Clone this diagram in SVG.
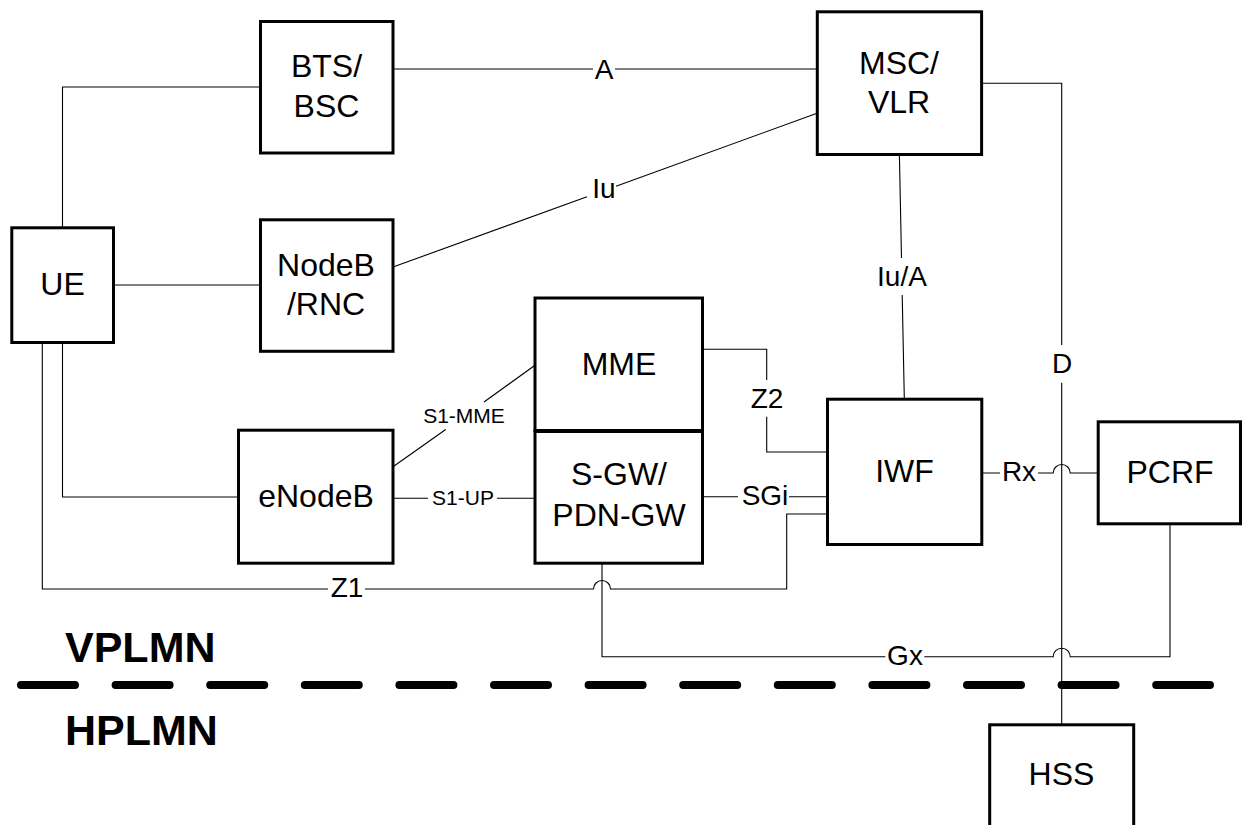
<svg xmlns="http://www.w3.org/2000/svg" width="1242" height="825" viewBox="0 0 1242 825">
<style>
.box{fill:#fff;stroke:#000;stroke-width:3}
.nt{font-family:"Liberation Sans",Arial,sans-serif;font-size:32px;fill:#000;text-anchor:middle}
.lb{font-family:"Liberation Sans",Arial,sans-serif;font-size:28px;fill:#000;text-anchor:middle}
.sl{font-family:"Liberation Sans",Arial,sans-serif;font-size:21px;fill:#000;text-anchor:middle}
.ln{fill:none;stroke:#000;stroke-width:1.1}
.dom{font-family:"Liberation Sans",Arial,sans-serif;font-size:43px;font-weight:bold;fill:#000}
</style>
<rect width="1242" height="825" fill="#fff"/>
<g id="connectors">
  <path class="ln" d="M62.5,227 V87 H260"/>
  <path class="ln" d="M113,285 H260"/>
  <path class="ln" d="M393,69 H593 M615,69 H817"/>
  <path class="ln" d="M393,267 L587,196.8 M616,186.2 L817,113.3"/>
  <path class="ln" d="M62.5,343 V497 H238"/>
  <path class="ln" d="M42.3,343 V589 H328 M365,589 H593.5 A8.5,8.5 0 0 1 610.5,589 H786.7 V514 H827"/>
  <path class="ln" d="M393,466.7 L445.7,429.5 M484,402 L535,365.3"/>
  <path class="ln" d="M393,498.3 H428 M497,498.3 H535"/>
  <path class="ln" d="M702,349.3 H766.7 V380 M766.7,416.7 V452 H827"/>
  <path class="ln" d="M702,496.7 H738 M789,496.7 H827"/>
  <path class="ln" d="M899.4,155 L901.5,258 M902.2,295 L904.3,398"/>
  <path class="ln" d="M982,83.3 H1061.7 V345 M1061.7,382.7 V724"/>
  <path class="ln" d="M982,473 H1000 M1038,473 H1053.2 A8.5,8.5 0 0 1 1070.2,473 H1097"/>
  <path class="ln" d="M602,564 V656.7 H885.3 M924.3,656.7 H1053.2 A8.5,8.5 0 0 1 1070.2,656.7 H1170 V524"/>
</g>
<g id="connector-labels">
  <text class="lb" x="604" y="79">A</text>
  <text class="lb" x="604" y="198">Iu</text>
  <text class="lb" x="902" y="286">Iu/A</text>
  <text class="lb" x="1062" y="373">D</text>
  <text class="lb" x="767" y="408">Z2</text>
  <text class="lb" x="765" y="505">SGi</text>
  <text class="lb" x="1019" y="481">Rx</text>
  <text class="lb" x="347" y="597">Z1</text>
  <text class="lb" x="905" y="665">Gx</text>
  <text class="sl" x="464" y="423">S1-MME</text>
  <text class="sl" x="463" y="505">S1-UP</text>
</g>
<g id="bts">
  <rect class="box" x="260.5" y="21.5" width="132.5" height="131.5"/>
  <text class="nt" x="326.5" y="77">BTS/</text>
  <text class="nt" x="326.5" y="117">BSC</text>
</g>
<g id="msc">
  <rect class="box" x="817.3" y="11.8" width="164.3" height="142.7"/>
  <text class="nt" x="899" y="74">MSC/</text>
  <text class="nt" x="899" y="113">VLR</text>
</g>
<g id="ue">
  <rect class="box" x="11.8" y="227.8" width="101.7" height="114.7"/>
  <text class="nt" x="62.5" y="295">UE</text>
</g>
<g id="nodeb">
  <rect class="box" x="260.5" y="219.8" width="132.5" height="131.5"/>
  <text class="nt" x="326" y="276">NodeB</text>
  <text class="nt" x="326" y="315">/RNC</text>
</g>
<g id="mme">
  <rect class="box" x="535" y="298" width="167.5" height="132.5"/>
  <text class="nt" x="619" y="375">MME</text>
</g>
<g id="sgw">
  <rect class="box" x="535" y="431.5" width="167.5" height="131.7"/>
  <text class="nt" x="619" y="485">S-GW/</text>
  <text class="nt" x="619" y="526">PDN-GW</text>
</g>
<g id="enodeb">
  <rect class="box" x="238.5" y="430.2" width="154.5" height="133"/>
  <text class="nt" x="316" y="507">eNodeB</text>
</g>
<g id="iwf">
  <rect class="box" x="827.5" y="399.2" width="154.3" height="145.3"/>
  <text class="nt" x="904.5" y="482">IWF</text>
</g>
<g id="pcrf">
  <rect class="box" x="1098.2" y="421.8" width="142.3" height="102"/>
  <text class="nt" x="1170" y="483">PCRF</text>
</g>
<g id="hss">
  <rect class="box" x="989.7" y="724.8" width="144" height="120"/>
  <text class="nt" x="1061.5" y="785">HSS</text>
</g>
<g id="domains">
  <line x1="21" y1="685" x2="1210" y2="685" stroke="#000" stroke-width="8" stroke-linecap="round" stroke-dasharray="54 40.6"/>
  <text class="dom" x="65" y="662">VPLMN</text>
  <text class="dom" x="65" y="745">HPLMN</text>
</g>
</svg>
